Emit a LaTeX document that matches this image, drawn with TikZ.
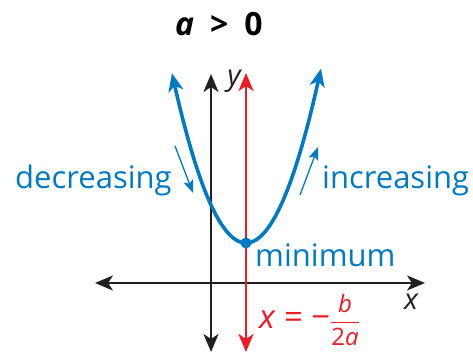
\documentclass[tikz,border=0pt]{standalone}
\usepackage{amsmath}
\usepackage{fontspec}
\setmainfont{Open Sans}
\usepackage{tikz}
\usetikzlibrary{arrows.meta, positioning}
\definecolor{curveblue}{RGB}{0,122,195}
\definecolor{axisred}{RGB}{237,28,36}
\definecolor{axisblack}{RGB}{35,31,32}
\newcommand{\bigtext}{\fontsize{31}{36}\selectfont}
\newcommand{\fractext}{\fontsize{24}{26}\selectfont\itshape}

\begin{document}
\begin{tikzpicture}[x=1pt, y=-1pt,
    >={Stealth[length=18pt, width=15pt, inset=5pt]},
    axis/.style={draw=axisblack, line width=2.2pt, <->},
    symline/.style={draw=axisred, line width=2.6pt, <->},
    trend/.style={draw=curveblue, line width=1.3pt,
      -{Stealth[length=13pt, width=10pt, inset=3pt]}},
    lbl/.style={inner sep=0pt, font=\bigtext}]
  \useasboundingbox (0,0) rectangle (473,353);
  % axes
  \coordinate (xl) at (95,283);
  \coordinate (xr) at (425,283);
  \coordinate (yt) at (211,74);
  \coordinate (yb) at (211,352);
  \coordinate (st) at (246,73);
  \coordinate (sb) at (246,352);
  \draw[axis] (xl) -- (xr);
  \draw[axis] (yb) -- (yt);
  \draw[symline] (sb) -- (st);
  % parabola
  \draw[curveblue, line width=3.6pt, <->]
    plot[domain=-74:75, samples=60, smooth] ({246+\x}, {243-0.031*\x*\x});
  \node[circle, fill=curveblue, inner sep=0pt, minimum size=11pt]
    (vertex) at (246,243) {};
  % labels
  \node[lbl, font=\fontsize{32}{36}\selectfont\bfseries] (title) at (219,24)
    {\textit{a}\hspace{0.5em}>\hspace{0.5em}0};
  \node[lbl, text=axisblack, font=\fontsize{29}{32}\selectfont\itshape]
    (ylbl) at (234,81) {y};
  \node[lbl, text=axisblack, font=\fontsize{29}{32}\selectfont\itshape]
    (xlbl) at (411,302) {x};
  \node[lbl, text=curveblue, anchor=base west] (dec) at (15,188) {decreasing};
  \node[lbl, text=curveblue, anchor=base west] (inc) at (322,188) {increasing};
  \node[lbl, text=curveblue, anchor=base west] (minlbl) at (255,266) {minimum};
  \node[lbl, text=axisred, anchor=west, font=\fontsize{33}{36}\selectfont]
    (eqn) at (259,320)
    {\textit{x}\hspace{0.25em}=\hspace{0.25em}−$\dfrac{\text{\fractext b}}{\text{\fractext\upshape 2\itshape a}}$};
  % trend arrows
  \coordinate (d1) at (175,146);
  \coordinate (d2) at (193,193);
  \coordinate (i1) at (300,195);
  \coordinate (i2) at (318,147);
  \draw[trend] (d1) -- (d2);
  \draw[trend] (i1) -- (i2);
\end{tikzpicture}
\end{document}
